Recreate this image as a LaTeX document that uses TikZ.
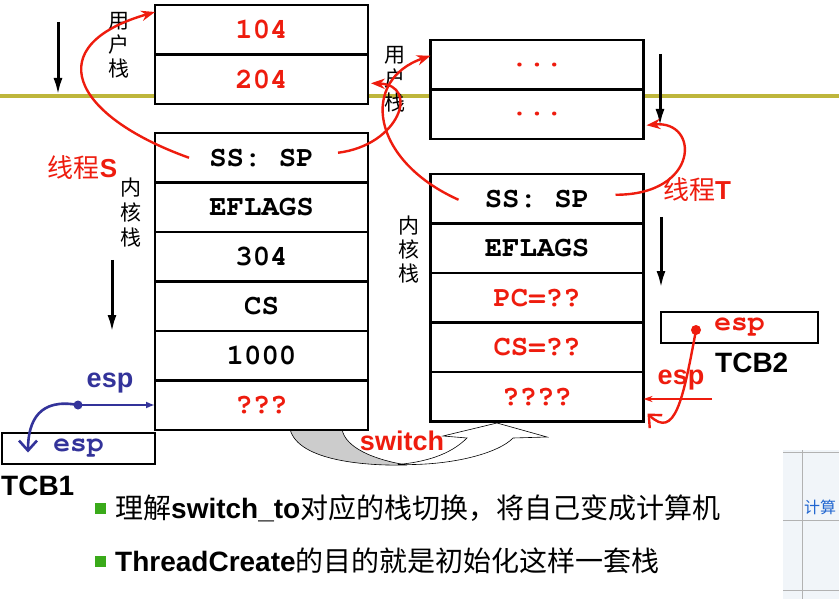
\documentclass[tikz,border=0pt]{standalone}
\usepackage{fontspec}
\setmainfont{Liberation Sans}
\setmonofont{texgyrecursor}[Extension=.otf,UprightFont=*-regular,BoldFont=*-bold]
\newfontfamily\cjk{Noto Sans CJK SC}
\usetikzlibrary{arrows.meta,positioning,calc}
\definecolor{sred}{HTML}{EE1C0E}
\definecolor{sblue}{HTML}{33339A}
\definecolor{divider}{HTML}{BEB63C}
\definecolor{bulletgreen}{HTML}{3AAA1A}
\definecolor{panelbg}{HTML}{F1F5F9}
\definecolor{panelblue}{HTML}{2166D0}

\begin{document}
\begin{tikzpicture}[
      x=1pt,y=-1pt,
      >=Stealth,
      cell/.style={draw,line width=2.9pt,fill=white,minimum width=213pt,minimum height=49.5pt,
                   outer sep=0pt,inner sep=0pt,font=\fontsize{29}{29}\selectfont\ttfamily\bfseries},
      redcell/.style={cell,text=sred},
      vlab/.style={font=\fontsize{21}{24}\selectfont\cjk,align=center,inner sep=0pt},
      thr/.style={text=sred,font=\fontsize{26}{26}\selectfont,inner sep=0pt},
      esplab/.style={font=\fontsize{27}{27}\selectfont\bfseries,inner sep=0pt},
      tcb/.style={draw,line width=2.9pt,fill=white,minimum height=31pt,outer sep=0pt,inner sep=0pt,
                  font=\fontsize{28}{28}\selectfont\ttfamily\bfseries},
      tcblab/.style={font=\fontsize{28}{28}\selectfont\bfseries,inner sep=0pt},
      dnarrow/.style={line width=3pt,-{Latex[length=17pt,width=9pt]}},
      redline/.style={draw=sred,line width=2.4pt},
      blueline/.style={draw=sblue,line width=2.6pt},
      btext/.style={font=\fontsize{28}{28}\selectfont,inner sep=0pt},
      bsq/.style={fill=bulletgreen,minimum size=11pt,inner sep=0pt}
    ]
    \fill[white] (0,0) rectangle (839,599);
    \useasboundingbox (0,0) rectangle (839,599);

    % user / kernel boundary
    \draw[divider,line width=4.5pt] (0,96) -- (839,96);

    % switch arrow
    \filldraw[fill=gray!40,draw=black,line width=0.6pt] (290,429) .. controls (298,462) and (370,466) .. (407,465)
        .. controls (375,460) and (345,448) .. (342,429) -- cycle;
    \filldraw[fill=white,draw=black,line width=0.6pt] (398,464.5) .. controls (455,466) and (500,452) .. (513,438)
        -- (547,437) -- (497,423) -- (443,436) -- (467,438) .. controls (450,455) and (425,462) .. (398,464.5) -- cycle;

    % thread S stacks
    \node[redcell] (lu1) at (261.5,29.75) {104};
    \node[redcell,below=0pt of lu1] (lu2) {204};
    \node[cell] (lk1) at (261.5,157.75) {SS: SP};
    \node[cell,below=0pt of lk1] (lk2) {EFLAGS};
    \node[cell,below=0pt of lk2] (lk3) {304};
    \node[cell,below=0pt of lk3] (lk4) {CS};
    \node[cell,below=0pt of lk4] (lk5) {1000};
    \node[redcell,below=0pt of lk5] (lk6) {???};

    % thread T stacks
    \node[redcell] (ru1) at (537,64.75) {...};
    \node[redcell,below=0pt of ru1] (ru2) {...};
    \node[cell] (rk1) at (537,198.75) {SS: SP};
    \node[cell,below=0pt of rk1] (rk2) {EFLAGS};
    \node[redcell,below=0pt of rk2] (rk3) {PC=??};
    \node[redcell,below=0pt of rk3] (rk4) {CS=??};
    \node[redcell,below=0pt of rk4] (rk5) {????};

    % stack labels
    \node[vlab] (luLab) at (119,45) {用\\户\\栈};
    \node[vlab,font=\fontsize{21}{25}\selectfont\cjk] (lkLab) at (131,213) {内\\核\\栈};
    \node[vlab] (ruLab) at (395,79) {用\\户\\栈};
    \node[vlab] (rkLab) at (409,250) {内\\核\\栈};
    \node[thr] (thrS) at (82.5,168) {{\cjk 线程}\textbf{S}};
    \node[thr] (thrT) at (697,190) {{\cjk 线程}\textbf{T}};

    % growth direction
    \draw[dnarrow] (58,22) -- (58,95);
    \draw[dnarrow] (112,260) -- (112,332);
    \draw[dnarrow] (660,54) -- (660,126);
    \draw[dnarrow] (661,217) -- (661,288);

    % SS:SP links
    \draw[redline,->] ($(lk1.west)+(34,0)$) .. controls (70,115) and (40,45) .. ($(lu1.north west)+(0,7)$);
    \draw[redline,->] ($(lk1.east)+(-30,-5)$) .. controls (400,145) and (420,85) .. ($(lu2.east)+(3,4)$);
    \draw[redline,->] ($(rk1.west)+(28,1)$) .. controls (370,160) and (360,80) .. ($(ru1.west)+(0,-9)$);
    \draw[redline,->] ($(rk1.east)+(-28,-4)$) .. controls (700,195) and (700,120) .. ($(ru2.east)+(3,11)$);

    % TCB1
    \node[tcb,text=sblue,minimum width=153pt] (tcbA) at (78.5,448.5) {esp};
    \node[tcblab,below right=12pt and -1pt of tcbA.south west] (tcbAlab) {TCB1};
    \coordinate (bdot) at (78,405);
    \draw[blueline,-{Latex[length=9pt,width=7pt]}] (bdot) -- (bdot -| lk6.west);
    \draw[blueline,-{Straight Barb[length=10pt,width=18pt]}] (bdot) .. controls (40,398) and (28,420) .. ($(tcbA.west)+(26,4)$);
    \fill[sblue] (bdot) circle (4.5pt);
    \node[esplab,text=sblue] (espA) at (110,383) {esp};

    % TCB2
    \node[tcb,text=sred,minimum width=157pt] (tcbB) at (739.5,327.5) {esp};
    \node[tcblab,below right=10pt and 54pt of tcbB.south west] (tcbBlab) {TCB2};
    \coordinate (rdot) at (696,330);
    \coordinate (espR) at (712,399);
    \draw[redline,-{Stealth[length=9pt,width=6pt]}] (espR) -- (espR -| rk5.east);
    \draw[redline,-{Straight Barb[length=10pt,width=18pt]}] (rdot) .. controls (683,400) and (675,440) .. ($(rk5.south east)+(4,-8)$);
    \fill[sred] (rdot) circle (5pt);
    \node[esplab,text=sred] (espB) at (681,380) {esp};

    % switch label
    \node[text=sred,font=\fontsize{27}{27}\selectfont\bfseries,inner sep=0pt] (sw) at (402,441) {switch};

    % bullets
    \node[btext,anchor=west] (b1) at (115,508) {{\cjk 理解}\textbf{switch\_to}{\cjk 对应的栈切换，将自己变成计算机}};
    \node[bsq,left=9pt of b1] (b1sq) {};
    \node[btext,anchor=west] (b2) at (115,561) {\textbf{ThreadCreate}{\cjk 的目的就是初始化这样一套栈}};
    \node[bsq,left=9pt of b2] (b2sq) {};

    % edge of another window
    \fill[panelbg] (783,450) rectangle (845,605);
    \draw[gray!60,line width=0.8pt] (783,452) -- (845,452) (783,520) -- (845,520) (783,590) -- (845,590) (802,450) -- (802,605);
    \node[text=panelblue,font=\fontsize{16}{16}\selectfont\cjk,anchor=west,inner sep=0pt] (calc) at (804,507) {计算};
\end{tikzpicture}
\end{document}
